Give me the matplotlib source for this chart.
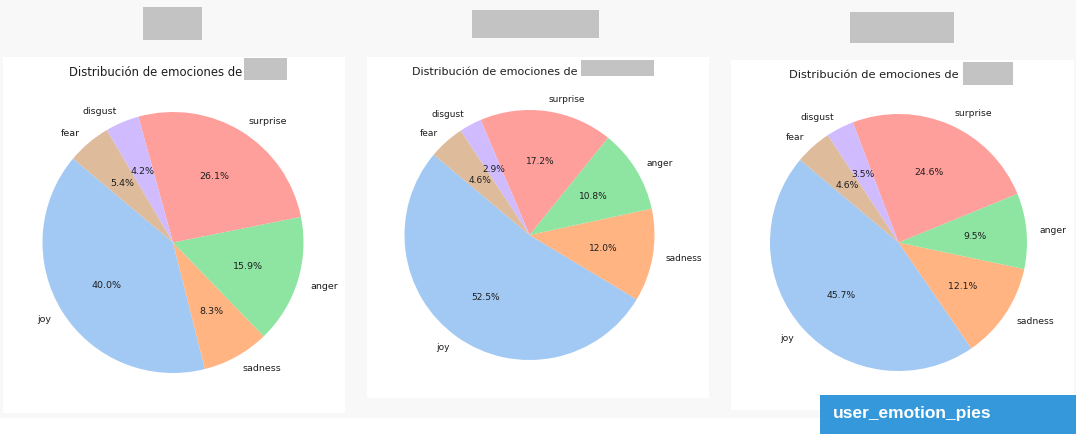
import matplotlib
matplotlib.use('Agg')
import matplotlib.pyplot as plt
from matplotlib.patches import Rectangle

W, H = 1076, 435

emotions = ['joy', 'sadness', 'anger', 'surprise', 'disgust', 'fear']
pastel = ['#a1c9f4', '#ffb482', '#8de5a1', '#ff9f9b', '#d0bbff', '#debb9b']

user1_pct = [40.0, 8.3, 15.9, 26.1, 4.2, 5.4]
user2_pct = [52.5, 12.0, 10.8, 17.2, 2.9, 4.6]
user3_pct = [45.7, 12.1, 9.5, 24.6, 3.5, 4.6]
series = [user1_pct, user2_pct, user3_pct]

title_text = 'Distribución de emociones de '

# layout in pixels (x0, y0 top, x1, y1) of each panel, pie centre/radius, redaction boxes
panels = [
    dict(box=(3, 58, 345, 414), c=(173, 243.5), r=130.5, head=(143, 8, 202, 41),
         title=(69, 76), tbox=(244, 59, 287, 81), tfs=8.4, lfs=6.8),
    dict(box=(367, 58, 709, 399), c=(529.5, 236), r=125, head=(472, 11, 599, 39),
         title=(412, 75), tbox=(581, 61, 654, 77), tfs=8.0, lfs=6.5),
    dict(box=(731, 61, 1074, 411), c=(898.5, 243.5), r=128.5, head=(850, 13, 954, 44),
         title=(789, 78), tbox=(963, 63, 1013, 86), tfs=8.2, lfs=6.7),
]


def rect_px(fig, x0, y0, x1, y1, color, z=0):
    fig.patches.append(Rectangle((x0 / W, 1 - y1 / H), (x1 - x0) / W, (y1 - y0) / H,
                                 transform=fig.transFigure, facecolor=color,
                                 edgecolor='none', zorder=z))


fig = plt.figure(figsize=(W / 100, H / 100), dpi=100, facecolor='white')
rect_px(fig, 0, 0, W, 419, '#f8f8f8', z=0)

for p, vals in zip(panels, series):
    rect_px(fig, *p['box'], 'white', z=1)
    rect_px(fig, *p['head'], '#c3c3c3', z=2)

    cx, cy = p['c']
    r = p['r']
    half = r * 1.5
    ax = fig.add_axes([(cx - half) / W, 1 - (cy + half) / H, 2 * half / W, 2 * half / H])
    ax.set_zorder(2.5)
    ax.patch.set_visible(False)
    ax.pie(vals, labels=emotions, colors=pastel, autopct='%1.1f%%', startangle=140,
           textprops={'fontsize': p['lfs'], 'color': '#1e1e1e'})
    ax.set_xlim(-1.5, 1.5)
    ax.set_ylim(-1.5, 1.5)
    ax.set_aspect('equal')
    ax.axis('off')

    tx, ty = p['title']
    fig.text(tx / W, 1 - ty / H, title_text, fontsize=p['tfs'], ha='left', va='baseline',
             color='#1e1e1e', zorder=3)
    rect_px(fig, *p['tbox'], '#c3c3c3', z=4)

# tag in the bottom right corner
rect_px(fig, 820, 396, 1076, 435, '#3498db', z=5)
fig.text(833 / W, 1 - 414 / H, 'user_emotion_pies', fontsize=12.5, fontweight='bold',
         family='Liberation Sans', color='white', ha='left', va='center', zorder=6)

fig.savefig('out.png', dpi=100, facecolor=fig.get_facecolor())
